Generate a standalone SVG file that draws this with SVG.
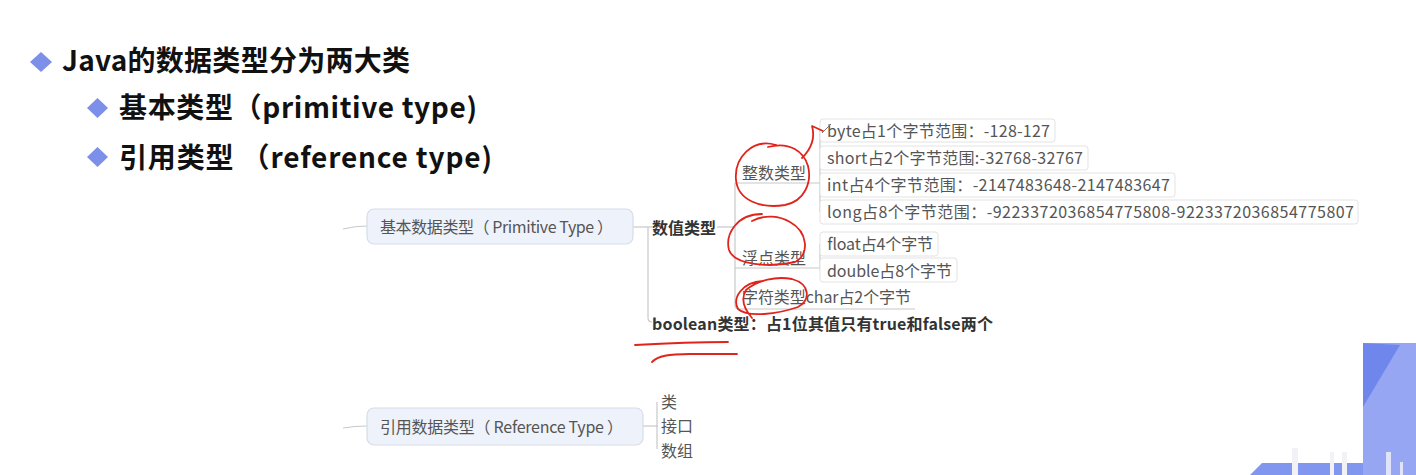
<svg xmlns="http://www.w3.org/2000/svg" width="1416" height="475" viewBox="0 0 1416 475">
<style>
.title{font-family:"Noto Sans CJK SC","Noto Sans",sans-serif;font-weight:bold;font-size:28px;fill:#111}
.dia{fill:#7c8fe9}
.box{fill:#eef2fb;stroke:#d6dce8;stroke-width:1.2}
.boxt{font-family:"Noto Sans CJK SC","Noto Sans",sans-serif;font-size:16px;fill:#555}
.bold{font-family:"Noto Sans CJK SC","Noto Sans",sans-serif;font-size:16px;font-weight:bold;fill:#333}
.t{font-family:"Noto Sans CJK SC","Noto Sans",sans-serif;font-size:16px;fill:#555}
.leaf{fill:#fff;stroke:#e3e3e3;stroke-width:1}
.ln{fill:none;stroke:#c8c8c8;stroke-width:1.2}
.red{fill:none;stroke:#e0241b;stroke-width:1.8;stroke-linecap:round;stroke-linejoin:round}
</style>
<rect width="1416" height="475" fill="#fff"/>

<g id="title">
<polygon class="dia" points="41,52 52,62 41,72 30,62"/>
<text class="title" x="62" y="71" textLength="348" lengthAdjust="spacing">Java的数据类型分为两大类</text>
<polygon class="dia" points="97.5,98 108,108 97.5,118 87,108"/>
<text class="title" x="119" y="118" textLength="358" lengthAdjust="spacing">基本类型（primitive type)</text>
<polygon class="dia" points="97.5,147 108,157 97.5,167 87,157"/>
<text class="title" x="119" y="168" textLength="373" lengthAdjust="spacing">引用类型 （reference type)</text>
</g>

<g id="connectors">
<path class="ln" d="M343,229 Q355,226 367,226"/>
<path class="ln" d="M343,428 Q355,426 367,426"/>
<path class="ln" d="M633,227 H652"/>
<path class="ln" d="M648,227 V318 Q648,322 652,322"/>
<path class="ln" d="M717,227 H735"/>
<path class="ln" d="M735,183 V305 Q735,309 739,309 H915"/>
<path class="ln" d="M735,183 H820"/>
<path class="ln" d="M735,268 H820"/>
<path class="ln" d="M820,130 V212"/>
<path class="ln" d="M820,244 V270"/>
<path class="ln" d="M643,426 H658"/>
<path class="ln" d="M657,402 V449"/>
</g>

<g id="node-primitive">
<rect class="box" x="367" y="209" width="266" height="35" rx="7"/>
<text class="boxt" x="380" y="233" textLength="233" lengthAdjust="spacing">基本数据类型（ Primitive Type ）</text>
</g>
<g id="node-reference">
<rect class="box" x="367" y="408" width="276" height="37" rx="7"/>
<text class="boxt" x="380" y="433" textLength="243" lengthAdjust="spacing">引用数据类型（ Reference Type ）</text>
</g>

<g id="node-numeric"><text class="bold" x="652" y="234">数值类型</text></g>
<g id="node-boolean"><text class="bold" x="652" y="330" textLength="341" lengthAdjust="spacing">boolean类型：占1位其值只有true和false两个</text></g>

<g id="node-int-types"><text class="t" x="742" y="179">整数类型</text></g>
<g id="node-byte"><rect class="leaf" x="820" y="119" width="235" height="23" rx="3"/><text class="t" x="827" y="137" textLength="223" lengthAdjust="spacing">byte占1个字节范围：-128-127</text></g>
<g id="node-short"><rect class="leaf" x="820" y="146" width="268" height="24" rx="3"/><text class="t" x="827" y="164" textLength="256" lengthAdjust="spacing">short占2个字节范围:-32768-32767</text></g>
<g id="node-int"><rect class="leaf" x="820" y="173" width="355" height="24" rx="3"/><text class="t" x="827" y="191" textLength="343" lengthAdjust="spacing">int占4个字节范围：-2147483648-2147483647</text></g>
<g id="node-long"><rect class="leaf" x="820" y="200" width="538" height="24" rx="3"/><text class="t" x="827" y="218" textLength="527" lengthAdjust="spacing">long占8个字节范围：-9223372036854775808-9223372036854775807</text></g>

<g id="node-float-types"><text class="t" x="742" y="264">浮点类型</text></g>
<g id="node-float"><rect class="leaf" x="820" y="232" width="118" height="24" rx="3"/><text class="t" x="827" y="250" textLength="106" lengthAdjust="spacing">float占4个字节</text></g>
<g id="node-double"><rect class="leaf" x="820" y="258" width="137" height="24" rx="3"/><text class="t" x="827" y="277" textLength="125" lengthAdjust="spacing">double占8个字节</text></g>

<g id="node-char"><text class="t" x="742" y="303" textLength="169" lengthAdjust="spacing">字符类型char占2个字节</text></g>

<g id="node-class"><text class="t" x="661" y="408">类</text></g>
<g id="node-interface"><text class="t" x="661" y="432">接口</text></g>
<g id="node-array"><text class="t" x="661" y="457">数组</text></g>

<g id="annotations">
<path class="red" d="M776,145 C752,138 734,158 736,180 C738,200 760,209 785,205 C805,201 812,182 808,166 C804,152 790,141 768,147"/>
<path class="red" stroke-width="3" d="M802,158 C810,150 816,140 812,126 L823,131"/>
<path d="M822,133 L831,124" stroke="#777" stroke-width="1" fill="none"/>
<path class="red" d="M762,214 C737,214 725,234 729,250 C734,265 770,268 795,262 C810,255 808,232 790,222 C780,216 765,214 752,221"/>
<path class="red" d="M763,281 C742,282 732,298 738,309 C748,318 778,314 798,307 C811,300 810,284 792,279 C776,276 758,280 746,290 C740,300 745,310 752,318"/>
<path class="red" d="M635,345 C670,343 700,342 728,342"/>
<path class="red" d="M652,362 C658,356 668,354 690,354 L737,354"/>
</g>

<g id="decoration">
<rect x="1363" y="343" width="53" height="132" fill="#97a6f3"/>
<polygon points="1363,343 1400,345 1363,407" fill="#6f87ec"/>
<polygon points="1250,475 1262,463 1363,463 1363,475" fill="#8196ee"/>
<rect x="1292" y="448" width="6" height="27" fill="#f2f2f6"/>
<rect x="1330" y="452" width="4" height="23" fill="#f2f2f6"/>
<rect x="1342" y="452" width="5" height="23" fill="#f2f2f6"/>
<rect x="1386" y="452" width="5" height="23" fill="#dfe4fb"/>
<rect x="1400" y="462" width="3" height="13" fill="#dfe4fb"/>
</g>
</svg>
